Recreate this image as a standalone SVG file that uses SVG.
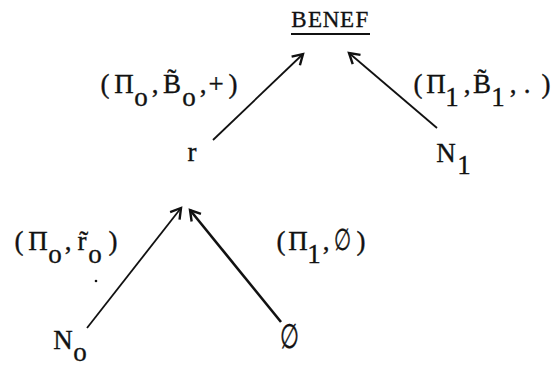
<svg xmlns="http://www.w3.org/2000/svg" width="560" height="368" viewBox="0 0 560 368">
<defs>
<style>
.t{font-family:"Liberation Serif","DejaVu Serif",serif;font-size:27px;fill:#111;stroke:#111;stroke-width:0.35;text-anchor:middle}
.b{font-size:23px}
.es{font-family:"DejaVu Serif","Liberation Serif",serif}
.e{stroke:#111;stroke-width:1.8;fill:none}
.ah{stroke:#111;stroke-width:2.4;fill:none;stroke-linejoin:miter}
</style>
<marker id="arr" markerUnits="userSpaceOnUse" markerWidth="20" markerHeight="20" refX="12" refY="7" orient="auto" viewBox="0 0 20 14">
<path class="ah" d="M2,1 L12,7 L2,13"/>
</marker>
</defs>
<rect width="560" height="368" fill="#fff"/>
<g id="connectors">
<line class="e" x1="213" y1="140" x2="303" y2="54" marker-end="url(#arr)"/>
<line class="e" x1="437" y1="128" x2="349" y2="53" marker-end="url(#arr)"/>
<line class="e" x1="87" y1="328" x2="181" y2="208" marker-end="url(#arr)"/>
<line class="e" x1="281" y1="322" x2="190" y2="210" marker-end="url(#arr)" style="stroke-width:2.6"/>
</g>
<g id="benef">
<text class="t b" y="27"><tspan x="299">B</tspan><tspan x="315">E</tspan><tspan x="331">N</tspan><tspan x="347">E</tspan><tspan x="362">F</tspan></text>
<line x1="291" y1="34" x2="370" y2="34" stroke="#111" stroke-width="1.8"/>
</g>
<g id="r"><text class="t" x="192" y="161">r</text></g>
<g id="n1"><text class="t"><tspan x="446" y="162">N</tspan><tspan x="464" y="174">1</tspan></text></g>
<g id="no"><text class="t"><tspan x="63" y="349">N</tspan><tspan x="80" y="361">o</tspan></text></g>
<g id="empty"><text class="t es" transform="translate(289,348) scale(0.8,1.25)" x="0" y="0">∅</text></g>
<g id="labels">
<text class="t"><tspan x="105" y="93">(</tspan><tspan x="124" y="93">Π</tspan><tspan x="141" y="106">o</tspan><tspan x="155" y="93">,</tspan><tspan x="172" y="93">B̃</tspan><tspan x="189" y="106">o</tspan><tspan x="203" y="93">,</tspan><tspan x="216" y="93">+</tspan><tspan x="233" y="93">)</tspan></text>
<text class="t"><tspan x="418" y="93">(</tspan><tspan x="436" y="93">Π</tspan><tspan x="452" y="106">1</tspan><tspan x="467" y="93">,</tspan><tspan x="482" y="93">B̃</tspan><tspan x="498" y="106">1</tspan><tspan x="513" y="93">,</tspan><tspan x="527" y="93">.</tspan><tspan x="546" y="93">)</tspan></text>
<text class="t"><tspan x="19" y="250">(</tspan><tspan x="38" y="250">Π</tspan><tspan x="55" y="263">o</tspan><tspan x="68" y="250">,</tspan><tspan x="82" y="250">r̃</tspan><tspan x="95" y="263">o</tspan><tspan x="113" y="250">)</tspan></text>
<circle cx="96" cy="281" r="1.3" fill="#111"/>
<text class="t"><tspan x="281" y="250">(</tspan><tspan x="298" y="250">Π</tspan><tspan x="314" y="263">1</tspan><tspan x="326" y="250">,</tspan><tspan x="361" y="250">)</tspan></text>
<text class="t es" transform="translate(343,250) scale(0.72,1.1)" x="0" y="0">∅</text>
</g>
</svg>
